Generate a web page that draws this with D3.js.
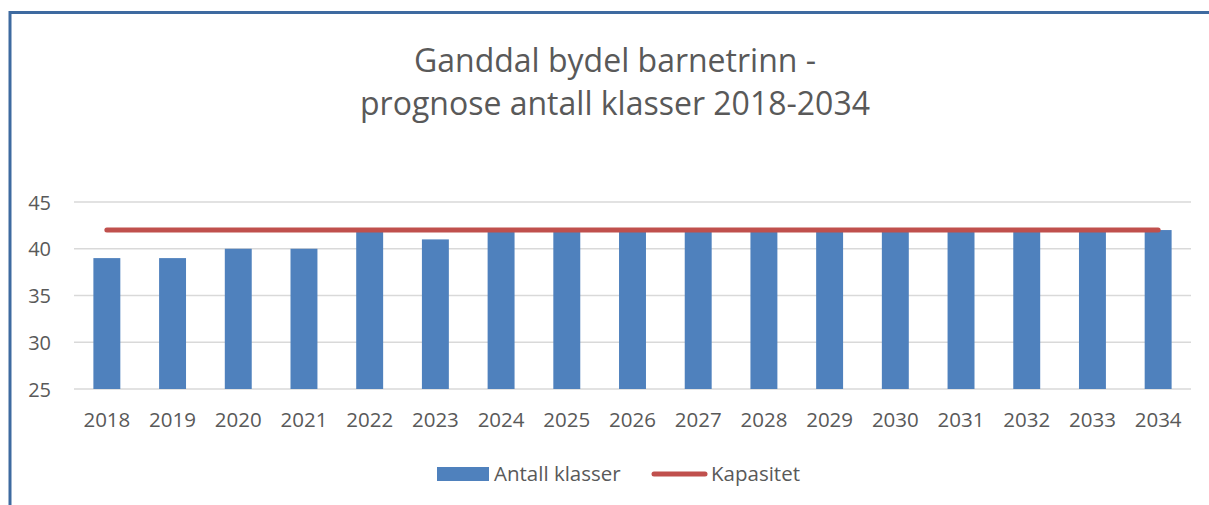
<!DOCTYPE html>
<html>
<head>
<meta charset="utf-8">
<script src="https://cdn.jsdelivr.net/npm/d3@7"></script>
<style>
  body { margin: 0; background: #fff; }
  text { font-family: "Open Sans", "Noto Sans", sans-serif; fill: #595959; }
</style>
</head>
<body>
<div id="chart"></div>
<script>
const years = ["2018", "2019", "2020", "2021", "2022", "2023", "2024", "2025", "2026",
  "2027", "2028", "2029", "2030", "2031", "2032", "2033", "2034"];
const antallKlasser = [39, 39, 40, 40, 42, 41, 42, 42, 42, 42, 42, 42, 42, 42, 42, 42, 42];
const kapasitet = [42, 42, 42, 42, 42, 42, 42, 42, 42, 42, 42, 42, 42, 42, 42, 42, 42];
const yTicks = [25, 30, 35, 40, 45];
const titleLines = ["Ganddal bydel barnetrinn -", "prognose antall klasser 2018-2034"];

const w = 1209, h = 505;
const mg = { left: 74, right: 18, top: 202, bottom: 116 };
const barColor = "#4F81BD", lineColor = "#C0504D";

const svg = d3.select("#chart").append("svg")
  .attr("width", w).attr("height", h);

// chart frame (only left and top edges visible)
svg.append("path")
  .attr("d", `M10,${h} L10,12.5 L${w},12.5`)
  .attr("fill", "none")
  .attr("stroke", "#3E6AA0")
  .attr("stroke-width", 3);

// title
svg.append("text")
  .attr("x", 615).attr("y", 72)
  .style("text-anchor", "middle")
  .style("font-size", "32px")
  .selectAll("tspan")
  .data(titleLines)
  .enter().append("tspan")
  .attr("x", 615)
  .attr("dy", (d, i) => i === 0 ? 0 : 43)
  .text(d => d);

const xScale = d3.scaleBand()
  .domain(years)
  .range([mg.left, w - mg.right])
  .paddingInner(0.59)
  .paddingOuter(0.295);

const yScale = d3.scaleLinear()
  .domain([25, 45])
  .range([h - mg.bottom, mg.top]);

// gridlines
svg.append("g")
  .selectAll("line")
  .data(yTicks)
  .enter().append("line")
  .attr("x1", mg.left).attr("x2", w - mg.right)
  .attr("y1", d => yScale(d)).attr("y2", d => yScale(d))
  .attr("stroke", "#D9D9D9")
  .attr("stroke-width", 1.5);

// y axis labels
const yAxis = svg.append("g")
  .attr("transform", `translate(${mg.left - 23},0)`)
  .call(d3.axisLeft(yScale).tickValues(yTicks).tickSize(0).tickPadding(0));
yAxis.select(".domain").remove();
yAxis.selectAll("text")
  .attr("dy", "0.35em")
  .style("font-size", "20px")
  .style("font-family", null)
  .attr("fill", null);

// x axis labels
const xAxis = svg.append("g")
  .attr("transform", `translate(0,${h - mg.bottom + 31})`)
  .call(d3.axisBottom(xScale).tickSize(0).tickPadding(0));
xAxis.select(".domain").remove();
xAxis.selectAll("text")
  .attr("dy", "0.35em")
  .style("font-size", "20.5px")
  .style("font-family", null)
  .attr("fill", null);

// bars
svg.append("g")
  .selectAll("rect")
  .data(antallKlasser)
  .enter().append("rect")
  .attr("x", (d, i) => xScale(years[i]))
  .attr("y", d => yScale(d))
  .attr("width", xScale.bandwidth())
  .attr("height", d => yScale(25) - yScale(d))
  .attr("fill", barColor);

// capacity line
const line = d3.line()
  .x((d, i) => xScale(years[i]) + xScale.bandwidth() / 2)
  .y(d => yScale(d));

svg.append("path")
  .datum(kapasitet)
  .attr("d", line)
  .attr("fill", "none")
  .attr("stroke", lineColor)
  .attr("stroke-width", 5)
  .attr("stroke-linecap", "round");

// legend
const lg = svg.append("g").attr("transform", "translate(0,474)");
lg.append("rect")
  .attr("x", 437).attr("y", -7)
  .attr("width", 52).attr("height", 14)
  .attr("fill", barColor);
lg.append("text")
  .attr("x", 494).attr("y", 0).attr("dy", "0.35em")
  .style("font-size", "20.5px")
  .text("Antall klasser");
lg.append("line")
  .attr("x1", 654).attr("x2", 705)
  .attr("y1", 0).attr("y2", 0)
  .attr("stroke", lineColor)
  .attr("stroke-width", 5)
  .attr("stroke-linecap", "round");
lg.append("text")
  .attr("x", 711).attr("y", 0).attr("dy", "0.35em")
  .style("font-size", "20.5px")
  .text("Kapasitet");
</script>
</body>
</html>
